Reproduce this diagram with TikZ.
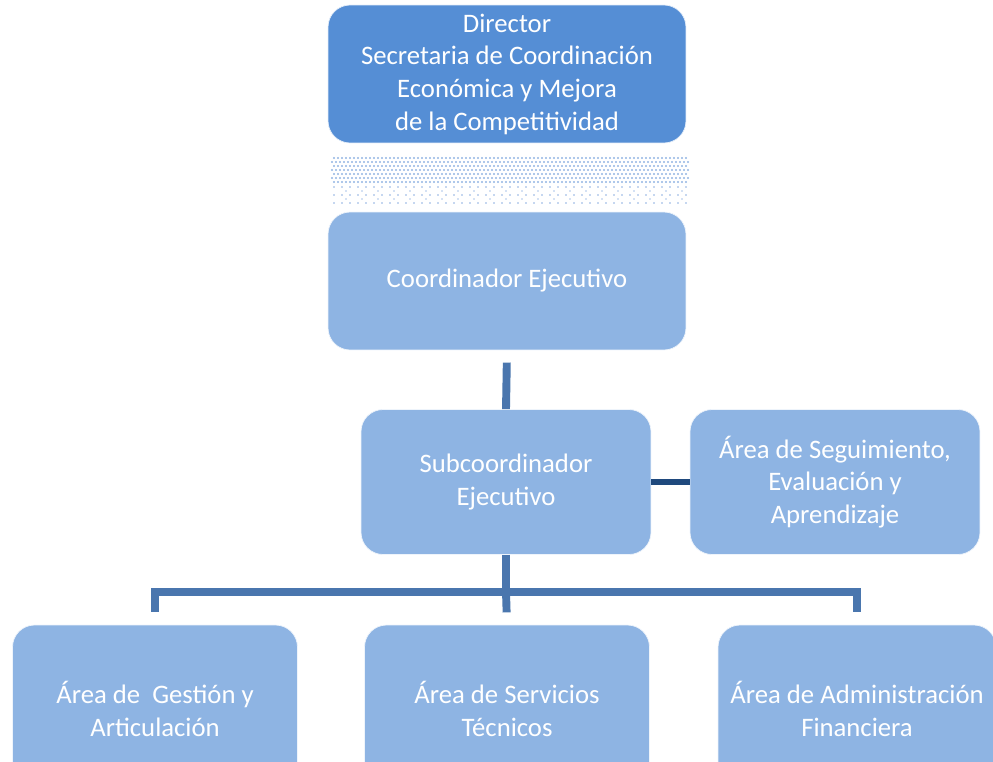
\documentclass[tikz,border=0pt]{standalone}
\usepackage{fontspec}
\setmainfont{Carlito}
\usepackage{tikz}
\definecolor{dirblue}{RGB}{85,142,213}
\definecolor{boxblue}{RGB}{142,180,227}
\definecolor{lineblue}{RGB}{74,118,174}
\definecolor{sideblue}{RGB}{31,73,125}
\definecolor{dotblue}{RGB}{110,155,218}

\begin{document}
\begin{tikzpicture}[x=0.02cm,y=-0.02cm,
		orgbox/.style={rounded corners=0.44cm,fill=boxblue,draw=white!85!boxblue,
			text=white,align=center,inner sep=0pt,
			font=\fontsize{15.2}{18.6}\selectfont},
		dirbox/.style={orgbox,fill=dirblue,draw=white!85!dirblue},
		conn/.style={draw=lineblue,line width=4.5pt},
		sideconn/.style={draw=sideblue,line width=3.4pt}]
		\useasboundingbox (0,0) rectangle (993,761);
		\node[dirbox,minimum width=7.16cm,minimum height=2.76cm](dir) at (507,74)
			{Director\\Secretaria de Coordinación\\Económica y Mejora\\de la Competitividad};
		\foreach \y in {158,166,174,182}
			\foreach \x in {334,338,...,686}
				\fill[dotblue!75] (\x,\y) circle (1.1);
		\foreach \y in {162,170,178}
			\foreach \x in {332,336,...,688}
				\fill[dotblue!75] (\x,\y) circle (1.1);
		\foreach \y in {187,195,203}
			\foreach \x in {334,342,...,686}
				\fill[dotblue!80] (\x,\y) circle (0.8);
		\foreach \y in {191,199}
			\foreach \x in {346,362,...,686}
				\fill[dotblue!60] (\x,\y) circle (0.8);
		\node[orgbox,minimum width=7.16cm,minimum height=2.76cm](coord) at (507,281)
			{Coordinador Ejecutivo};
		\node[orgbox,minimum width=5.8cm,minimum height=2.9cm](sub) at (506,482)
			{Subcoordinador\\Ejecutivo};
		\node[orgbox,minimum width=5.8cm,minimum height=2.9cm](seg) at (835,482)
			{Área de Seguimiento,\\Evaluación y\\Aprendizaje};
		\node[orgbox,minimum width=5.7cm,minimum height=3.36cm](gest) at (155,709)
			{Área de \ Gestión y\\Articulación};
		\node[orgbox,minimum width=5.7cm,minimum height=3.36cm](serv) at (507,709)
			{Área de Servicios\\Técnicos};
		\node[orgbox,minimum width=5.56cm,minimum height=3.36cm](adm) at (857,709)
			{Área de Administración\\Financiera};
		\coordinate (bus) at (506,592);
		\draw[conn,shorten <=7] (coord.south) -- (sub.north);
		\draw[sideconn] (sub.east) -- (seg.west);
		\draw[conn] (sub.south) -- (bus);
		\draw[conn,shorten >=7] (bus) -| (gest.north);
		\draw[conn,shorten >=7] (bus) -- (serv.north);
		\draw[conn,shorten >=7] (bus) -| (adm.north);
	\end{tikzpicture}
\end{document}
